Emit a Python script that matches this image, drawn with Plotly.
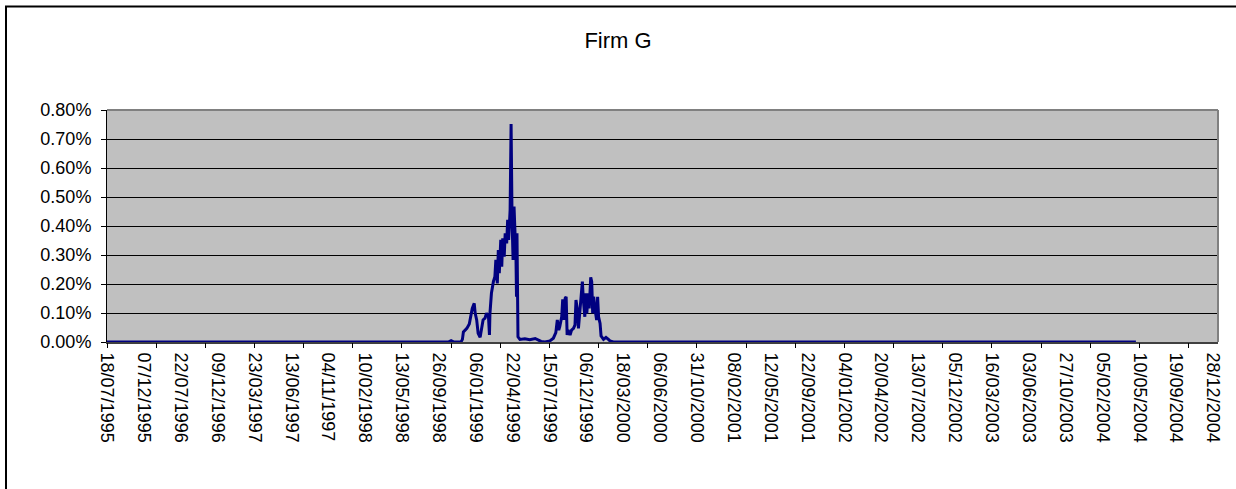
"""Firm G: daily series with Excel-style category axis."""

import plotly.graph_objects as go

# category index (trading day) and value in percent
day_idx = [
    0, 677, 694, 700, 706, 720, 723, 725, 732, 737, 740, 743, 747, 749, 752,
    755, 759, 762, 765, 769, 772, 776, 778, 779, 782, 786, 789, 791, 794, 796,
    798, 801, 803, 805, 808, 810, 813, 815, 817, 820, 822, 824, 826, 828, 830,
    832, 833, 834, 836, 840, 850, 860, 871, 877, 883, 891, 901, 908, 913, 916,
    919, 921, 925, 927, 930, 932, 934, 936, 938, 942, 945, 949, 952, 954, 957,
    959, 962, 964, 967, 969, 972, 974, 976, 979, 981, 984, 986, 988, 990, 993,
    996, 998, 1000, 1003, 1005, 1010, 1015, 1020, 1023, 1030, 2093,
]
spread_pct = [
    0.0, 0.0, 0.0, 0.005, 0.0, 0.0, 0.009, 0.035, 0.047, 0.062, 0.087, 0.116,
    0.133, 0.099, 0.076, 0.030, 0.016, 0.041, 0.076, 0.082, 0.099, 0.087, 0.024,
    0.099, 0.168, 0.208, 0.225, 0.283, 0.202, 0.317, 0.237, 0.352, 0.260, 0.358,
    0.294, 0.375, 0.340, 0.421, 0.352, 0.455, 0.752, 0.421, 0.283, 0.467, 0.375,
    0.283, 0.156, 0.375, 0.018, 0.009, 0.011, 0.008, 0.012, 0.008, 0.002, 0.0,
    0.004, 0.013, 0.032, 0.076, 0.041, 0.053, 0.087, 0.147, 0.076, 0.151, 0.156,
    0.024, 0.041, 0.024, 0.041, 0.047, 0.059, 0.145, 0.110, 0.047, 0.099, 0.145,
    0.208, 0.145, 0.087, 0.168, 0.099, 0.168, 0.116, 0.223, 0.208, 0.099, 0.156,
    0.110, 0.076, 0.156, 0.087, 0.064, 0.021, 0.009, 0.016, 0.009, 0.004, 0.0,
    0.0,
]

date_labels = [
    "18/07/1995", "07/12/1995", "22/07/1996", "09/12/1996", "23/03/1997",
    "13/06/1997", "04/11/1997", "10/02/1998", "13/05/1998", "26/09/1998",
    "06/01/1999", "22/04/1999", "15/07/1999", "06/12/1999", "18/03/2000",
    "06/06/2000", "31/10/2000", "08/02/2001", "12/05/2001", "22/09/2001",
    "04/01/2002", "20/04/2002", "13/07/2002", "05/12/2002", "16/03/2003",
    "03/06/2003", "27/10/2003", "05/02/2004", "10/05/2004", "19/09/2004",
    "28/12/2004",
]

N_CATS = 2260
LABEL_STEP = 75
TICK_STEP = 100
FONT = "Arial, Liberation Sans, sans-serif"

fig = go.Figure()
fig.add_trace(go.Scatter(
    x=day_idx, y=spread_pct, mode="lines",
    line=dict(color="#000080", width=3),
    showlegend=False, hoverinfo="skip",
))
# carrier trace so the tick-mark axis gets drawn
fig.add_trace(go.Scatter(
    x=[day_idx[0]], y=[spread_pct[0]], xaxis="x2", mode="markers",
    marker=dict(opacity=0), showlegend=False, hoverinfo="skip",
))

fig.update_layout(
    width=1236, height=489, autosize=False,
    paper_bgcolor="white", plot_bgcolor="#C0C0C0",
    margin=dict(l=107, r=18, t=110, b=147),
    font=dict(family=FONT, size=18, color="black"),
    title=dict(text="Firm G", x=0.5, xref="container", xanchor="center",
               y=1 - 40 / 489, yref="container", yanchor="middle",
               font=dict(size=22, color="black")),
    xaxis=dict(
        range=[0, N_CATS],
        tickmode="array",
        tickvals=[i * LABEL_STEP for i in range(len(date_labels))],
        ticktext=date_labels,
        tickangle=90,
        ticks="outside", ticklen=5, tickcolor="rgba(0,0,0,0)",
        showgrid=False, zeroline=False,
        showline=True, linecolor="#404040", linewidth=2,
        layer="below traces",
    ),
    xaxis2=dict(
        range=[0, N_CATS], overlaying="x", anchor="y", side="bottom",
        tickmode="array",
        tickvals=list(range(0, N_CATS, TICK_STEP)),
        ticks="outside", ticklen=5, tickcolor="black", tickwidth=1,
        showticklabels=False, showgrid=False, zeroline=False, showline=False,
    ),
    yaxis=dict(
        range=[0, 0.8], dtick=0.1, tick0=0,
        tickformat=".2f", ticksuffix="%",
        ticks="outside", ticklen=5, tickcolor="black",
        ticklabelstandoff=6,
        showgrid=True, gridcolor="black", gridwidth=1,
        zeroline=False,
        showline=True, linecolor="black", linewidth=1,
        layer="below traces",
    ),
    shapes=[
        # grey plot-area frame (top and right edges)
        dict(type="line", xref="paper", yref="paper", x0=0, x1=1, y0=1, y1=1,
             line=dict(color="#808080", width=2)),
        dict(type="line", xref="paper", yref="paper", x0=1, x1=1, y0=0, y1=1,
             line=dict(color="#808080", width=2)),
        # chart-area border
        dict(type="rect", xref="paper", yref="paper",
             x0=(6 - 107) / 1111, x1=1.2, y0=-1.0, y1=(342 - 6.5) / 232,
             line=dict(color="black", width=2), fillcolor="rgba(0,0,0,0)"),
    ],
)

# page body has a default 8px margin; drop it so the chart sits at 0,0
fig.write_html(
    "out.html",
    config={"displayModeBar": False},
    post_script="document.body.style.margin='0';",
)
